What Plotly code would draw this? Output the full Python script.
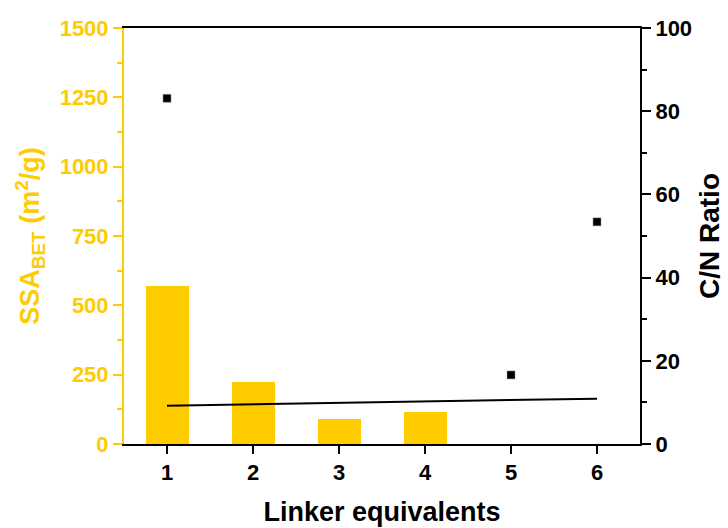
import plotly.graph_objects as go

linker = [1, 2, 3, 4]
ssa_bet = [571, 224, 90, 115]

cn_x = [1, 5, 6]
cn_ratio = [83.1, 16.6, 53.4]

fit_x = [1, 6]
fit_y = [9.2, 10.9]

x_ticks = [1, 2, 3, 4, 5, 6]
y_ticks = [0, 250, 500, 750, 1000, 1250, 1500]
y2_ticks = [0, 20, 40, 60, 80, 100]

YEL = "#FFCC00"
FONT = "Arial, Liberation Sans, sans-serif"


def bold(vals):
    return ["<b>%s</b>" % v for v in vals]


fig = go.Figure()
fig.add_trace(go.Bar(x=linker, y=ssa_bet, width=0.5, marker=dict(color=YEL, line=dict(width=0)),
                     yaxis="y", showlegend=False))
fig.add_trace(go.Scatter(x=fit_x, y=fit_y, mode="lines", line=dict(color="black", width=2),
                         yaxis="y2", showlegend=False))
fig.add_trace(go.Scatter(x=cn_x, y=cn_ratio, mode="markers",
                         marker=dict(symbol="square", size=8, color="black",
                                     line=dict(color="#999999", width=0.5)),
                         yaxis="y2", showlegend=False))

fig.update_layout(
    width=728, height=528,
    margin=dict(l=124, r=88, t=28, b=84),
    plot_bgcolor="white", paper_bgcolor="white",
    font=dict(family=FONT, size=22, color="black"),
    bargap=0,
    xaxis=dict(range=[0.5, 6.5], tickvals=x_ticks, ticktext=bold(x_ticks), ticks="outside",
               ticklen=8, tickwidth=2, tickcolor="black", showline=True, linecolor="black",
               linewidth=2, mirror=True, showgrid=False, zeroline=False, automargin=False,
               tickfont=dict(family=FONT, size=22, color="black"),
               title=dict(text="<b>Linker equivalents</b>", font=dict(size=27, family=FONT), standoff=18)),
    yaxis=dict(range=[0, 1500], tickvals=y_ticks, ticktext=bold(y_ticks), ticks="outside",
               ticklen=9, tickwidth=2, tickcolor=YEL, showline=True, linecolor=YEL, linewidth=2,
               showgrid=False, zeroline=False, automargin=False,
               minor=dict(ticks="outside", dtick=125, ticklen=5, tickwidth=2, tickcolor=YEL, showgrid=False),
               tickfont=dict(family=FONT, size=22, color=YEL),
               title=dict(text="<b>SSA<sub>BET</sub> (m<sup>2</sup>/g)</b>",
                          font=dict(size=27, family=FONT, color=YEL), standoff=12)),
    yaxis2=dict(range=[0, 100], tickvals=y2_ticks, ticktext=bold(y2_ticks), overlaying="y", side="right",
                ticks="outside", ticklen=9, tickwidth=2, tickcolor="black", showline=True,
                linecolor="black", linewidth=2, showgrid=False, zeroline=False, automargin=False,
                minor=dict(ticks="outside", dtick=10, ticklen=5, tickwidth=2, tickcolor="black", showgrid=False),
                tickfont=dict(family=FONT, size=22, color="black"),
                title=dict(text="<b>C/N Ratio</b>", font=dict(size=28, family=FONT), standoff=8)),
)

fig.write_html("out.html")
